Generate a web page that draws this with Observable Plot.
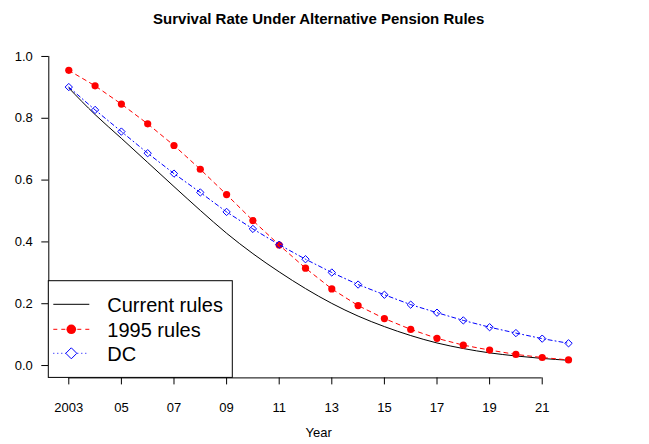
<!DOCTYPE html>
<html>
<head>
<meta charset="utf-8">
<script src="https://cdn.jsdelivr.net/npm/d3@7"></script>
<script src="https://cdn.jsdelivr.net/npm/@observablehq/plot@0.6"></script>
<style>
  html, body { margin: 0; padding: 0; background: #fff; }
  svg { display: block; }
</style>
</head>
<body>
<div id="chart"></div>
<script>
const title = "Survival Rate Under Alternative Pension Rules";
const xLabel = "Year";
const years = [2003,2004,2005,2006,2007,2008,2009,2010,2011,2012,2013,2014,2015,2016,2017,2018,2019,2020,2021,2022];
const currentRules = [0.898,0.812,0.735,0.657,0.579,0.502,0.428,0.362,0.303,0.249,0.201,0.160,0.126,0.097,0.073,0.055,0.041,0.031,0.023,0.017];
const rules1995 = [0.955,0.905,0.846,0.782,0.712,0.635,0.553,0.469,0.390,0.315,0.248,0.194,0.152,0.117,0.088,0.066,0.050,0.036,0.026,0.018];
const dcRules = [0.901,0.827,0.757,0.687,0.621,0.560,0.497,0.442,0.391,0.344,0.301,0.262,0.229,0.197,0.171,0.146,0.124,0.105,0.087,0.072];
const seriesNames = ["Current rules", "1995 rules", "DC"];
const xTicks = [2003,2005,2007,2009,2011,2013,2015,2017,2019,2021];
const yTicks = [0.0,0.2,0.4,0.6,0.8,1.0];

const font = "'Liberation Sans', Arial, Helvetica, sans-serif";
const W = 649, H = 444;
const mL = 48.3, mR = 61, mT = 43.6, mB = 66.6;

const cur = years.map((x, i) => ({x, y: currentRules[i]}));
const r95 = years.map((x, i) => ({x, y: rules1995[i]}));
const dc = years.map((x, i) => ({x, y: dcRules[i]}));

const xr = years[years.length - 1] - years[0];
const xDom = [years[0] - 0.04 * xr, years[years.length - 1] + 0.04 * xr];
const yDom = [yTicks[0] - 0.04, yTicks[yTicks.length - 1] + 0.04];

const plot = Plot.plot({
  width: W, height: H,
  marginLeft: mL, marginRight: mR, marginTop: mT, marginBottom: mB,
  style: {fontFamily: font, fontSize: "13px", background: "#fff", color: "#000"},
  x: {domain: xDom},
  y: {domain: yDom},
  marks: [
    Plot.axisX({ticks: xTicks, tickSize: 7, tickPadding: 18, fontSize: 13,
      tickFormat: d => d === xTicks[0] ? String(d) : String(d % 100).padStart(2, "0"),
      label: null}),
    Plot.axisY({ticks: yTicks, tickSize: 7, tickPadding: 9, fontSize: 13,
      tickFormat: d => d.toFixed(1), label: null}),
    Plot.ruleY([yDom[0]], {x1: xTicks[0], x2: xTicks[xTicks.length - 1], stroke: "#000"}),
    Plot.ruleX([xDom[0]], {y1: yTicks[0], y2: yTicks[yTicks.length - 1], stroke: "#000"}),
    Plot.line(cur, {x: "x", y: "y", stroke: "#000", strokeWidth: 1, curve: "monotone-x"}),
    Plot.line(r95, {x: "x", y: "y", stroke: "#ff0000", strokeWidth: 1, strokeDasharray: "4,4"}),
    Plot.dot(r95, {x: "x", y: "y", r: 3.6, fill: "#ff0000", stroke: "none"}),
    Plot.line(dc, {x: "x", y: "y", stroke: "#0000ff", strokeWidth: 1, strokeDasharray: "4,3,1,3"}),
    Plot.dot(dc, {x: "x", y: "y", r: 3.3, symbol: "diamond2", fill: "none", stroke: "#0000ff", strokeWidth: 1}),
    Plot.text([title], {frameAnchor: "top", dy: -30.6, fontWeight: "bold", fontSize: 15, fill: "#000"}),
    Plot.text([xLabel], {frameAnchor: "bottom", dy: 59.5, fontSize: 13, fill: "#000"})
  ]
});

// Legend (bottom-left inside plot region)
const svg = d3.select(plot);
const bx = mL, bBottom = H - mB, bw = 184, bh = 96.7;
const g = svg.append("g").attr("font-family", font).attr("text-anchor", "start");
g.append("rect").attr("x", bx).attr("y", bBottom - bh).attr("width", bw).attr("height", bh)
  .attr("fill", "#fff").attr("stroke", "#000").attr("stroke-width", 1);
const rowY = [bBottom - bh + 23.6, bBottom - bh + 48.6, bBottom - bh + 72.6];
const styles = [
  {stroke: "#000", dash: null, pt: null},
  {stroke: "#ff0000", dash: "4,4", pt: "circle"},
  {stroke: "#0000ff", dash: "1,3", pt: "diamond"}
];
seriesNames.forEach((name, i) => {
  const y = rowY[i], s = styles[i];
  const ln = g.append("line").attr("x1", bx + 5).attr("x2", bx + 41).attr("y1", y).attr("y2", y)
    .attr("stroke", s.stroke).attr("stroke-width", 1);
  if (s.dash) ln.attr("stroke-dasharray", s.dash);
  if (s.pt === "circle") {
    g.append("circle").attr("cx", bx + 23).attr("cy", y).attr("r", 4.8).attr("fill", "#ff0000");
  } else if (s.pt === "diamond") {
    const c = bx + 23, r = 5.5;
    g.append("path").attr("d", `M${c},${y - r}L${c + r},${y}L${c},${y + r}L${c - r},${y}Z`)
      .attr("fill", "#fff").attr("stroke", "#0000ff").attr("stroke-width", 1);
  }
  g.append("text").attr("x", bx + 59).attr("y", y + 7.2).attr("font-size", 20)
    .attr("text-anchor", "start").attr("fill", "#000").text(name);
});

document.getElementById("chart").appendChild(plot);
</script>
</body>
</html>
